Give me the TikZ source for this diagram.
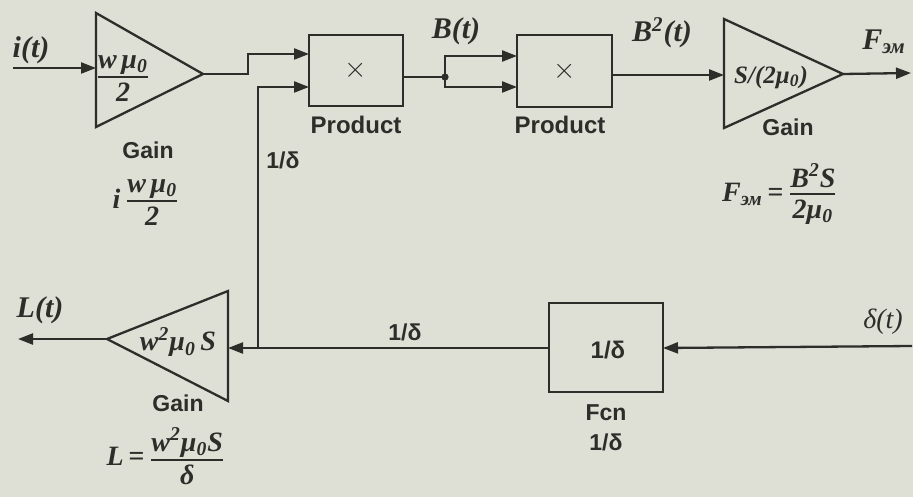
\documentclass[tikz,border=0pt]{standalone}
\usepackage{fontspec}
\setmainfont{Liberation Serif}
\setsansfont{Liberation Sans}
\usetikzlibrary{arrows.meta}
\definecolor{bgc}{RGB}{222,224,214}
\definecolor{ink}{RGB}{45,45,42}
\newcommand{\labf}{\bfseries\itshape}
\newcommand{\myfr}[2]{$\vcenter{\hbox{${\hbox{\rule[-2pt]{0pt}{12pt}#1}\above0.9pt\hbox{\rule[-2pt]{0pt}{13pt}#2}}$}}$}
\begin{document}
\begin{tikzpicture}[x=0.5pt,y=-0.5pt,
  wire/.style={draw=ink,line width=1.15pt},
  arr/.style={wire,-{Triangle[length=7.5pt,width=5.5pt]}},
  blk/.style={draw=ink,line width=1.15pt,inner sep=0pt},
  sl/.style={font=\sffamily\bfseries\fontsize{11.5}{13}\selectfont,text=ink,inner sep=1pt},
  il/.style={font=\labf\fontsize{15}{17}\selectfont,text=ink,inner sep=1pt},
  fl/.style={font=\labf\fontsize{14}{16}\selectfont,text=ink,inner sep=1pt},
  gl/.style={font=\labf\fontsize{12.5}{14}\selectfont,text=ink,inner sep=1pt}]
\fill[bgc] (0,0) rectangle (913,497);
\useasboundingbox (0,0) rectangle (913,497);

% ---- blocks ----
\node[blk,minimum width=47pt,minimum height=35.5pt] (p1) at (356,70.5) {};
\node[blk,minimum width=47.5pt,minimum height=36pt] (p2) at (564.5,71) {};
\node[blk,minimum width=57pt,minimum height=44.5pt] (fcn) at (606,347.5) {};
\node[font=\sffamily\fontsize{14}{16}\selectfont,text=ink] (x1) at (p1) {$\times$};
\node[font=\sffamily\fontsize{14}{16}\selectfont,text=ink] (x2) at (p2) {$\times$};
\node[sl,font=\sffamily\bfseries\fontsize{12}{14}\selectfont] (fcnt) at (608,350) {1/δ};

% gain triangles
\draw[wire] (96,13) -- (203,74) -- (96,127) -- cycle;
\draw[wire] (724,19) -- (843,74) -- (724,128) -- cycle;
\draw[wire] (228,291) -- (107,339) -- (228,401) -- cycle;

% ---- coordinates ----
\coordinate (iin) at (13,68);
\coordinate (g1in) at (96,68);
\coordinate (g1out) at (203,74);
\coordinate (p1a) at (309,54);
\coordinate (p1b) at (309,87);
\coordinate (p1o) at (403,77);
\coordinate (br) at (445,77);
\coordinate (p2a) at (517,56);
\coordinate (p2b) at (517,87);
\coordinate (p2o) at (612,75);
\coordinate (g3in) at (724,75);
\coordinate (g3out) at (843,74);
\coordinate (fout) at (911,73);
\coordinate (din) at (912,346);
\coordinate (fcnr) at (663,348);
\coordinate (fcnl) at (549,348);
\coordinate (jn) at (258,348);
\coordinate (g2in) at (228,348);
\coordinate (g2out) at (107,339);
\coordinate (lout) at (18,339);

% ---- connectors ----
\draw[arr] (iin) -- (g1in);
\draw[arr] (g1out) -- (248,74) |- (p1a);
\draw[arr] (jn) |- (p1b);
\draw[wire] (p1o) -- (br);
\draw[arr] (br) |- (p2a);
\draw[arr] (br) |- (p2b);
\fill[ink] (br) circle (1.8pt);
\draw[arr] (p2o) -- (g3in);
\draw[arr] (g3out) -- (fout);
\draw[arr] (din) -- (fcnr);
\draw[arr] (fcnl) -- (g2in);
\draw[arr] (g2out) -- (lout);

% ---- labels ----
\node[il] (lit) at (31,50) {i(t)};
\node[fl] (g1t) at (123,77) {\myfr{w\,μ\textsubscript{0}}{2}};
\node[sl] (g1n) at (148,150) {Gain};
\node[fl] (g1f) at (146,201) {i\,\myfr{w\,μ\textsubscript{0}}{2}};
\node[sl] (ld1) at (283,160) {1/δ};
\node[sl,font=\sffamily\bfseries\fontsize{12}{14}\selectfont] (pr1) at (356,125) {Product};
\node[sl,font=\sffamily\bfseries\fontsize{12}{14}\selectfont] (pr2) at (560,125) {Product};
\node[il] (lbt) at (456,31) {B(t)};
\node[il] (lb2) at (662,33) {B\textsuperscript{2}(t)};
\node[gl] (g3t) at (771,77) {S/(2μ\textsubscript{0})};
\node[il] (lf) at (884,42) {F\textsubscript{эм}};
\node[sl] (g3n) at (788,127) {Gain};
\node[fl] (g3f) at (780,194) {F\textsubscript{эм}\,=\,\myfr{B\textsuperscript{2}S}{2μ\textsubscript{0}}};
\node[il] (llt) at (40,310) {L(t)};
\node[fl] (g2t) at (178,342) {w\textsuperscript{2}μ\textsubscript{0}\,S};
\node[sl] (g2n) at (178,403) {Gain};
\node[fl] (g2f) at (166,458) {L\,=\,\myfr{w\textsuperscript{2}μ\textsubscript{0}S}{δ}};
\node[sl] (ld2) at (405,332) {1/δ};
\node[il,font=\itshape\fontsize{14}{16}\selectfont] (ldt) at (883,322) {δ(t)};
\node[sl] (fcnn) at (606,413) {Fcn};
\node[sl] (fcnd) at (606,442) {1/δ};
\end{tikzpicture}
\end{document}
